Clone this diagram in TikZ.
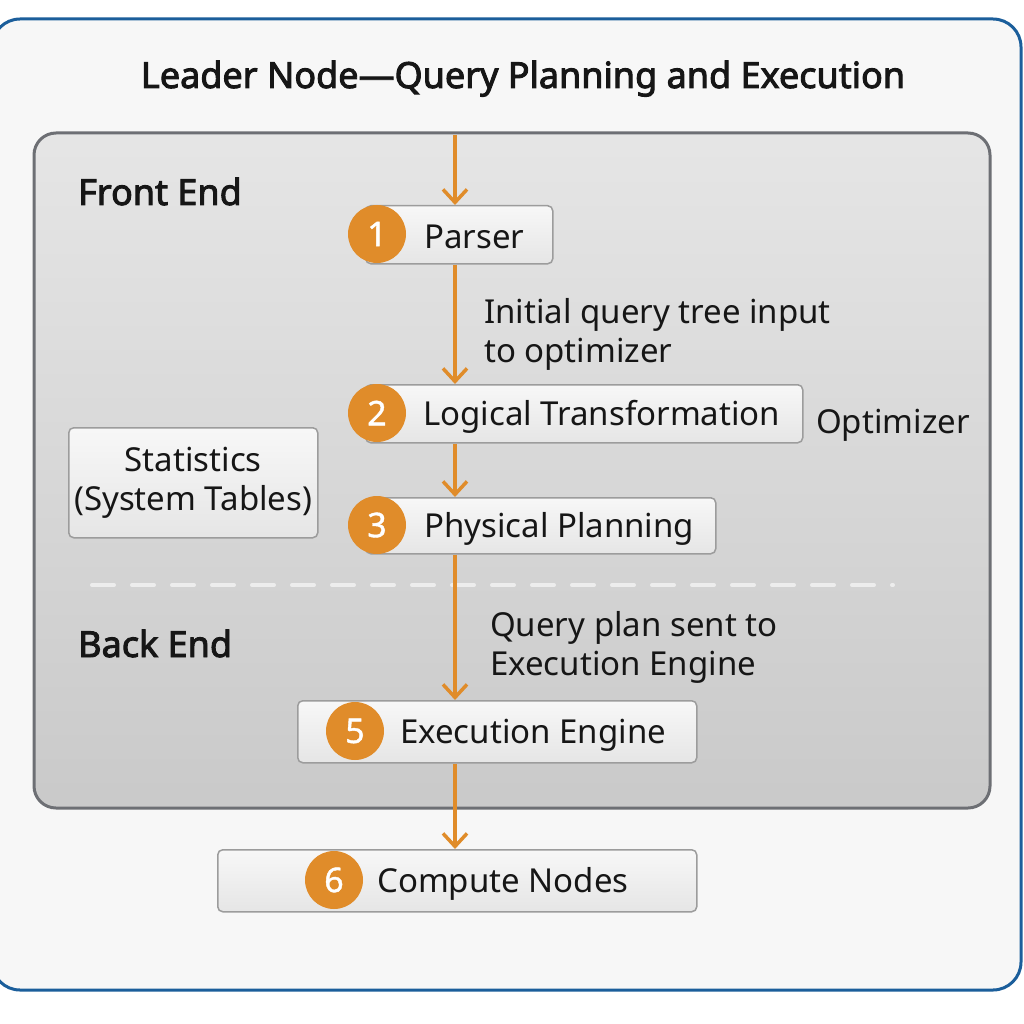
\documentclass[tikz,border=0pt]{standalone}
\usepackage{fontspec}
\setmainfont{Noto Sans}
\newfontfamily\heavyface{Noto Sans}[FakeBold=2.6]
\newfontfamily\mediumface{Noto Sans}[FakeBold=1.2]
\usetikzlibrary{arrows.meta}
\definecolor{myorange}{HTML}{E08C2A}
\definecolor{myblue}{HTML}{1B5E9B}
\definecolor{framegray}{HTML}{6D6F74}
\definecolor{boxgray}{HTML}{9C9C9C}
\definecolor{ink}{HTML}{161616}
\newcommand\bodyfont{\fontsize{33}{39}\selectfont}
\newcommand\numfont{\mediumface\fontsize{34}{39}\selectfont}
\newcommand\headfont{\heavyface\fontsize{36}{40}\selectfont}
\newcommand\titlefont{\heavyface\fontsize{36}{40}\selectfont}
\tikzset{
  stepbox/.style={draw=boxgray, line width=1.5pt, rounded corners=5pt,
    top color=white!97!black, bottom color=white!90!black,
    inner sep=0pt, anchor=north west},
  numdisc/.style={circle, fill=myorange, minimum size=58pt, inner sep=0pt,
    text=white, font=\numfont},
  boxtext/.style={anchor=base west, inner sep=0pt, text=ink, font=\bodyfont},
  note/.style={anchor=base west, inner sep=0pt, text=ink, font=\bodyfont, align=left},
  head/.style={anchor=base west, inner sep=0pt, text=ink, font=\headfont},
  flow/.style={draw=myorange, line width=3.5pt,
    -{Straight Barb[length=13pt, width=24pt, line width=3.5pt]}},
}
\begin{document}
\begin{tikzpicture}[x=1pt, y=-1pt]
\fill[white] (0,0) rectangle (1024,1024);
\useasboundingbox (0,0) rectangle (1024,1024);
% outer frame
\draw[myblue, line width=3pt, fill=white!97!black, rounded corners=28pt] (-8,19) rectangle (1021,990);
% title
\node[anchor=base, inner sep=0pt, text=ink, font=\titlefont] (title) at (523,88) {Leader Node—Query Planning and Execution};
% inner panel
\draw[framegray, line width=3pt, rounded corners=22pt, top color=white!90!black, bottom color=white!79!black] (34,133) rectangle (990,808);
\coordinate (top) at (455,135);
% section heads
\node[head] (fe) at (78,205) {Front End};
\node[head] (be) at (78,657) {Back End};
% dashed separator
\draw[white!93!black, line width=4pt, line cap=round, dash pattern=on 22pt off 18pt] (92,585) -- (893,585);
% boxes
\node[stepbox, minimum width=187pt, minimum height=58pt] (parser) at (365,205) {};
\node[stepbox, minimum width=437pt, minimum height=58pt] (logic) at (365,384) {};
\node[stepbox, minimum width=350pt, minimum height=56pt] (phys) at (365,497) {};
\node[stepbox, minimum width=399pt, minimum height=62pt] (exec) at (297,700) {};
\node[stepbox, minimum width=479pt, minimum height=62pt] (comp) at (217,849) {};
\node[stepbox, minimum width=249pt, minimum height=110pt, text=ink, font=\bodyfont, align=center] (stats) at (68,427) {Statistics\\(System Tables)};
% numbers
\node[numdisc] (n1) at (377,234) {1};
\node[numdisc] (n2) at (377,413) {2};
\node[numdisc] (n3) at (377,525) {3};
\node[numdisc] (n5) at (355,731) {5};
\node[numdisc] (n6) at (334,880) {6};
% box texts
\node[boxtext] (t1) at (424,248) {Parser};
\node[boxtext] (t2) at (423,425) {Logical Transformation};
\node[boxtext] (t3) at (424,537) {Physical Planning};
\node[boxtext] (t5) at (400,743) {Execution Engine};
\node[boxtext] (t6) at (377,892) {Compute Nodes};
% notes (base anchor = last line)
\node[note] (l1) at (484,362) {Initial query tree input\\to optimizer};
\node[note] (l2) at (490,675) {Query plan sent to\\Execution Engine};
\node[note] (opt) at (816,433) {Optimizer};
% arrows
\coordinate (ax) at (455,0);
\draw[flow] (top) -- (parser.north -| ax);
\draw[flow] (parser.south -| ax) -- (logic.north -| ax);
\draw[flow] (logic.south -| ax) -- (phys.north -| ax);
\draw[flow] (phys.south -| ax) -- (exec.north -| ax);
\draw[flow] (exec.south -| ax) -- (comp.north -| ax);
\end{tikzpicture}
\end{document}
